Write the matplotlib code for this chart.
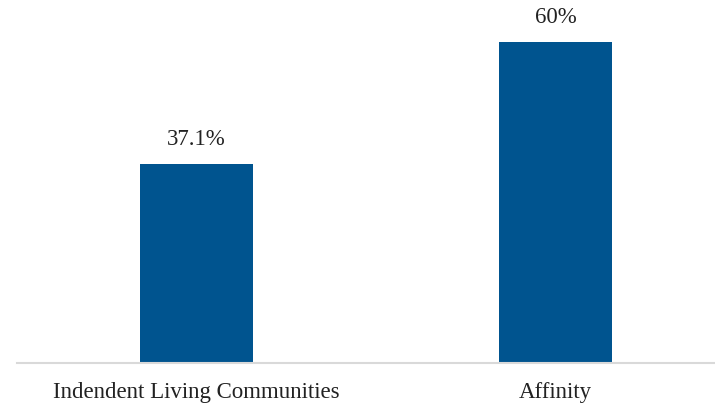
import matplotlib
matplotlib.use('Agg')
import matplotlib.pyplot as plt

# data
categories = ['Indendent Living Communities', 'Affinity']
values = [37.1, 60]
value_labels = ['37.1%', '60%']

BAR_COLOR = '#00548F'

plt.rcParams['font.family'] = ['Liberation Serif', 'DejaVu Serif']

fig = plt.figure(figsize=(7.15, 4.08), dpi=100)
ax = fig.add_axes([17 / 715, 45 / 408, 698 / 715, 348 / 408])

x = list(range(len(categories)))
bars = ax.bar(x, values, width=0.315, color=BAR_COLOR, zorder=2)

for b, lab in zip(bars, value_labels):
    ax.annotate(lab, (b.get_x() + b.get_width() / 2, b.get_height()),
                xytext=(0, 10), textcoords='offset points',
                ha='center', va='bottom', fontsize=16.5, color='#222222')

ax.set_xlim(-0.5, 1.444)
ax.set_ylim(0, 65)
ax.set_xticks(x)
ax.set_xticklabels(categories, fontsize=16.5, color='#222222')
ax.tick_params(axis='x', length=0, pad=14)
ax.set_yticks([])

for s in ['top', 'right', 'left']:
    ax.spines[s].set_visible(False)
ax.spines['bottom'].set_color('#D9D9D9')
ax.spines['bottom'].set_linewidth(1.5)

fig.savefig('out.png', dpi=100)
